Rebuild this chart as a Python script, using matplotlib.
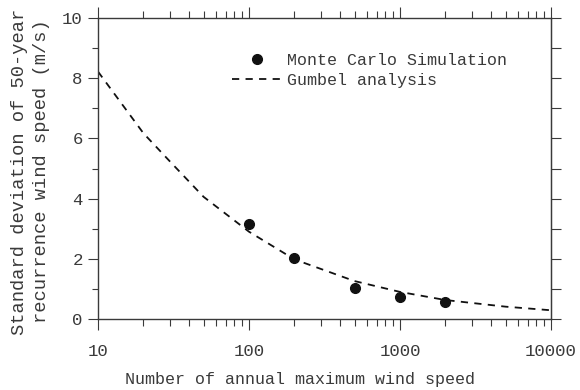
import matplotlib
matplotlib.use("Agg")
import matplotlib.pyplot as plt
from matplotlib.ticker import LogLocator, MultipleLocator, NullFormatter

# Data
mc_n = [100, 200, 500, 1000, 2000]
mc_sd = [3.16, 2.02, 1.04, 0.73, 0.55]
gum_n = [10, 20, 30, 50, 100, 200, 500, 1000, 2000, 5000, 10000]
gum_sd = [8.22, 6.17, 5.23, 4.06, 2.90, 1.98, 1.26, 0.90, 0.63, 0.41, 0.29]
xtick_vals = [10, 100, 1000, 10000]
xtick_labels = ["10", "100", "1000", "10000"]
ytick_vals = [0, 2, 4, 6, 8, 10]

plt.rcParams['font.family'] = ['Liberation Mono', 'DejaVu Sans Mono']
txt = '#3a3a3a'

fig = plt.figure(figsize=(5.8, 3.9), dpi=100)
ax = fig.add_axes([98/580, 1-319/390, (551-98)/580, (319-18)/390])

ax.plot(mc_n, mc_sd, 'o', color='#111111', markersize=7, label='Monte Carlo Simulation')
ax.plot(gum_n, gum_sd, '--', color='#111111', linewidth=1.3, dashes=(4, 3.5), label='Gumbel analysis')

ax.set_xscale('log')
ax.set_xlim(10, 10000)
ax.set_ylim(0, 10)
ax.set_xticks(xtick_vals)
ax.set_xticklabels(xtick_labels)
ax.xaxis.set_minor_locator(LogLocator(base=10, subs=range(2, 10)))
ax.xaxis.set_minor_formatter(NullFormatter())
ax.set_yticks(ytick_vals)
ax.yaxis.set_minor_locator(MultipleLocator(1))

ax.tick_params(axis='x', which='major', direction='out', length=8, width=0.8, top=True,
               labelsize=12.5, colors=txt, pad=10)
ax.tick_params(axis='x', which='minor', direction='out', length=5, width=0.8, top=True, colors=txt)
ax.tick_params(axis='y', which='major', direction='out', length=7, width=0.8, right=False,
               labelsize=12.5, colors=txt, pad=4)
ax.tick_params(axis='y', which='minor', direction='out', length=4, width=0.8, right=False, colors=txt)

sec = ax.secondary_yaxis('right')
sec.yaxis.set_major_locator(MultipleLocator(1))
sec.tick_params(direction='out', length=7, width=0.8, labelright=False, colors=txt)
sec.spines['right'].set_color(txt)

for s in ax.spines.values():
    s.set_color(txt)
    s.set_linewidth(1.0)

ax.set_xlabel('Number of annual maximum wind speed', fontsize=12, color=txt)
ax.xaxis.set_label_coords((300-98)/453, -0.175)
ax.set_ylabel('Standard deviation of 50-year\nrecurrence wind speed (m/s)', fontsize=13.5,
              color=txt, linespacing=1.4)
ax.yaxis.set_label_coords(-(98-50)/453, 0.49)

leg = ax.legend(loc='upper left', bbox_to_anchor=(0.28, 0.905), frameon=False, fontsize=12,
                handlelength=3.0, handletextpad=0.3, labelspacing=0.3, borderaxespad=0)
for t in leg.get_texts():
    t.set_color(txt)

fig.savefig('out.png', dpi=100)
